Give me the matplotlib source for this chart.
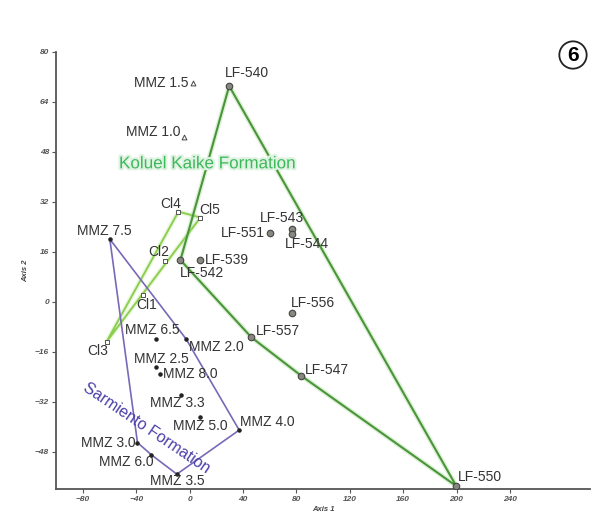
import numpy as np
import matplotlib
matplotlib.use("Agg")
import matplotlib.pyplot as plt
import matplotlib.patheffects as pe

plt.rcParams['font.family'] = ['Liberation Sans', 'DejaVu Sans']

# Koluel Kaike samples (LF)
lf_names = ["LF-540", "LF-542", "LF-539", "LF-551", "LF-543", "LF-544",
            "LF-556", "LF-557", "LF-547", "LF-550"]
lf_x = [29.7, -6.8, 8.1, 60.3, 76.9, 76.9, 76.4, 46.3, 83.6, 199.8]
lf_y = [69.0, 13.3, 13.3, 21.9, 23.4, 21.6, -3.7, -11.4, -23.7, -59.0]
lf_hull = ["LF-540", "LF-550", "LF-547", "LF-557", "LF-542", "LF-540"]

# Cl samples
cl_names = ["Cl4", "Cl5", "Cl2", "Cl1", "Cl3"]
cl_x = [-8.3, 8.1, -18.7, -34.9, -62.1]
cl_y = [28.8, 26.9, 13.1, 2.1, -12.8]
cl_hull = ["Cl4", "Cl5", "Cl3", "Cl4"]

# Sarmiento samples (MMZ)
mmz_names = ["MMZ 7.5", "MMZ 6.5", "MMZ 2.0", "MMZ 2.5", "MMZ 8.0", "MMZ 3.3",
             "MMZ 5.0", "MMZ 4.0", "MMZ 3.0", "MMZ 6.0", "MMZ 3.5"]
mmz_x = [-59.7, -24.9, -2.5, -24.9, -22.4, -6.3, 8.1, 37.2, -39.0, -28.6, -9.5]
mmz_y = [20.0, -12.0, -12.0, -21.0, -23.1, -29.9, -36.8, -41.1, -45.1, -49.0, -55.2]
mmz_hull = ["MMZ 7.5", "MMZ 2.0", "MMZ 4.0", "MMZ 3.5", "MMZ 6.0", "MMZ 3.0", "MMZ 7.5"]

# MMZ triangles
tri_names = ["MMZ 1.5", "MMZ 1.0"]
tri_x = [2.4, -4.3]
tri_y = [70.1, 52.8]

xticks = [-80, -40, 0, 40, 80, 120, 160, 200, 240]
yticks = [-48, -32, -16, 0, 16, 32, 48, 64, 80]

# label offsets in pixels (dx, dy, ha)
offs = {
    "LF-540": (-4, 13, "left"), "LF-542": (-1, -13, "left"), "LF-539": (5, 0, "left"),
    "LF-551": (-5, 0, "right"), "LF-543": (-10, 11, "center"), "LF-544": (-7, -10, "left"),
    "LF-556": (-1, 10, "left"), "LF-557": (5, 6, "left"), "LF-547": (4, 6, "left"),
    "LF-550": (2, 9, "left"),
    "Cl4": (-8, 8, "center"), "Cl5": (-1, 8, "left"), "Cl2": (-6, 9, "center"),
    "Cl1": (4, -10, "center"), "Cl3": (-9, -9, "center"),
    "MMZ 1.5": (-4, 0, "right"), "MMZ 1.0": (-3, 5, "right"),
    "MMZ 7.5": (-6, 8, "center"), "MMZ 6.5": (-4, 9, "center"), "MMZ 2.0": (3, -8, "left"),
    "MMZ 2.5": (5, 8, "center"), "MMZ 8.0": (3, 0, "left"), "MMZ 3.3": (-4, -8, "center"),
    "MMZ 5.0": (0, -9, "center"), "MMZ 4.0": (1, 8, "left"), "MMZ 3.0": (-2, 0, "right"),
    "MMZ 6.0": (2, -7, "right"), "MMZ 3.5": (0, -7, "center"),
}

fig = plt.figure(figsize=(5.96, 5.16), dpi=100)
ax = fig.add_axes([0.094, 0.052, 0.896, 0.848])

def hull_xy(order, names, xs, ys):
    idx = [names.index(n) for n in order]
    return [xs[i] for i in idx], [ys[i] for i in idx]

glow = lambda c, w: [pe.Stroke(linewidth=w, foreground=c, alpha=0.35), pe.Normal()]

hx, hy = hull_xy(cl_hull, cl_names, cl_x, cl_y)
ax.plot(hx, hy, color="#8ccf4f", lw=1.4, path_effects=glow("#c8eaa8", 3.5), zorder=2)
hx, hy = hull_xy(lf_hull, lf_names, lf_x, lf_y)
ax.plot(hx, hy, color="#4a953a", lw=1.5, path_effects=glow("#9ed88a", 3.5), zorder=2)
hx, hy = hull_xy(mmz_hull, mmz_names, mmz_x, mmz_y)
ax.plot(hx, hy, color="#7a68b8", lw=1.2, zorder=2)

ax.scatter(lf_x, lf_y, s=22, c="#888880", edgecolors="#444444", linewidths=0.8, zorder=4)
ax.scatter(cl_x, cl_y, s=9, marker="s", c="white", edgecolors="#555555", linewidths=0.7, zorder=4)
ax.scatter(mmz_x, mmz_y, s=5, c="#222222", zorder=4)
ax.scatter(tri_x, tri_y, s=12, marker="^", c="white", edgecolors="#444444", linewidths=0.7, zorder=4)

for names, xs, ys in [(lf_names, lf_x, lf_y), (cl_names, cl_x, cl_y),
                      (mmz_names, mmz_x, mmz_y), (tri_names, tri_x, tri_y)]:
    for n, x, y in zip(names, xs, ys):
        dx, dy, ha = offs[n]
        ax.annotate(n, (x, y), xytext=(dx, dy), textcoords="offset pixels",
                    ha=ha, va="center", fontsize=10, color="#333333", zorder=5)

ax.text(13.7, 44.1, "Koluel Kaike Formation", fontsize=12.3, color="#3db85a",
        ha="center", va="center", zorder=3,
        path_effects=[pe.withStroke(linewidth=3, foreground="#e0f3e3")])
ax.text(-32.1, -40.4, "Sarmiento Formation", fontsize=11.5, color="#4a3fa8",
        ha="center", va="center", rotation=-34, rotation_mode="anchor", zorder=3)

ax.set_xlim(-100, 300)
ax.set_ylim(-60, 80)
ax.set_xticks(xticks)
ax.set_yticks(yticks)
for s in ["top", "right"]:
    ax.spines[s].set_visible(False)
for s in ["left", "bottom"]:
    ax.spines[s].set_color("#555555")
    ax.spines[s].set_linewidth(1.3)
ax.tick_params(direction="out", length=3, width=0.8, color="#555555",
               labelsize=6, labelcolor="#555555", pad=2)
for lab in ax.get_xticklabels() + ax.get_yticklabels():
    lab.set_fontstyle("italic")
    lab.set_fontweight("bold")
ax.set_xlabel("Axis 1", fontsize=5.5, style="italic", fontweight="bold", color="#444444", labelpad=2)
ax.set_ylabel("Axis 2", fontsize=5.5, style="italic", fontweight="bold", color="#444444", labelpad=4)

fig.text(0.9614, 0.8934, "6", fontsize=15, fontweight="bold", ha="center", va="center",
         bbox=dict(boxstyle="circle,pad=0.2", fc="white", ec="#222222", lw=1.3))

fig.savefig("out.png", dpi=100)
